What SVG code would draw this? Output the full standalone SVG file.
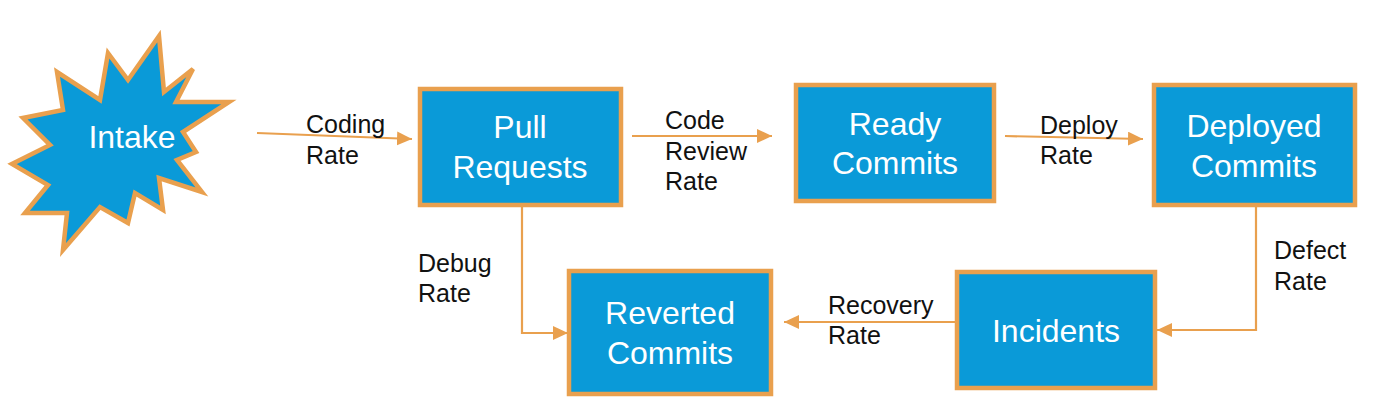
<svg xmlns="http://www.w3.org/2000/svg" width="1400" height="413" viewBox="0 0 1400 413">
<style>
.box{fill:#0A9AD8;stroke:#E9A04E;stroke-width:4.5}
.lbl{font-family:"Liberation Sans",Arial,sans-serif;font-size:32px;fill:#ffffff;text-anchor:middle}
.rate{font-family:"Liberation Sans",Arial,sans-serif;font-size:25px;fill:#111111}
.conn{fill:none;stroke:#E9A04E;stroke-width:2.2}
</style>
<defs>
<marker id="ah" markerUnits="userSpaceOnUse" markerWidth="18" markerHeight="16" refX="15" refY="7" orient="auto">
<polygon points="0,0 15,7 0,14" fill="#E9A04E"/>
</marker>
</defs>
<rect width="1400" height="413" fill="#ffffff"/>
<g id="connectors">
<path class="conn" d="M257,133 L412,139" marker-end="url(#ah)"/>
<path class="conn" d="M632,136 L772,136" marker-end="url(#ah)"/>
<path class="conn" d="M1005,136 L1143,139" marker-end="url(#ah)"/>
<path class="conn" d="M522,207 L522,333 L568,333" marker-end="url(#ah)"/>
<path class="conn" d="M1256,207 L1256,330 L1157,330" marker-end="url(#ah)"/>
<path class="conn" d="M955,322 L784,322" marker-end="url(#ah)"/>
</g>
<g id="labels">
<text class="rate" x="306" y="133">Coding</text>
<text class="rate" x="306" y="164">Rate</text>
<text class="rate" x="665" y="129">Code</text>
<text class="rate" x="665" y="160">Review</text>
<text class="rate" x="665" y="190">Rate</text>
<text class="rate" x="1040" y="134">Deploy</text>
<text class="rate" x="1040" y="164">Rate</text>
<text class="rate" x="418" y="272">Debug</text>
<text class="rate" x="418" y="302">Rate</text>
<text class="rate" x="1274" y="259">Defect</text>
<text class="rate" x="1274" y="290">Rate</text>
<text class="rate" x="828" y="314">Recovery</text>
<text class="rate" x="828" y="344">Rate</text>
</g>
<g id="intake">
<polygon class="box" points="159,36 164,92 193,69 176,102 229,102 183,132 196,152 177,160 202,192 159,178 163,210 135,193 128,223 100,207 63,250 67,213 25,213 48,185 12,164 50,145 23,118 63,110 57,72 100,100 108,53 128,80"/>
<text class="lbl" x="132" y="148">Intake</text>
</g>
<g id="pull-requests">
<rect class="box" x="420" y="89" width="201" height="116"/>
<text class="lbl" x="520" y="138">Pull</text>
<text class="lbl" x="520" y="178">Requests</text>
</g>
<g id="ready-commits">
<rect class="box" x="796" y="85" width="198" height="116"/>
<text class="lbl" x="895" y="135">Ready</text>
<text class="lbl" x="895" y="174">Commits</text>
</g>
<g id="deployed-commits">
<rect class="box" x="1154" y="85" width="201" height="120"/>
<text class="lbl" x="1254" y="137">Deployed</text>
<text class="lbl" x="1254" y="177">Commits</text>
</g>
<g id="reverted-commits">
<rect class="box" x="569" y="271" width="202" height="123"/>
<text class="lbl" x="670" y="324">Reverted</text>
<text class="lbl" x="670" y="364">Commits</text>
</g>
<g id="incidents">
<rect class="box" x="957" y="272" width="198" height="116"/>
<text class="lbl" x="1056" y="342">Incidents</text>
</g>
</svg>
